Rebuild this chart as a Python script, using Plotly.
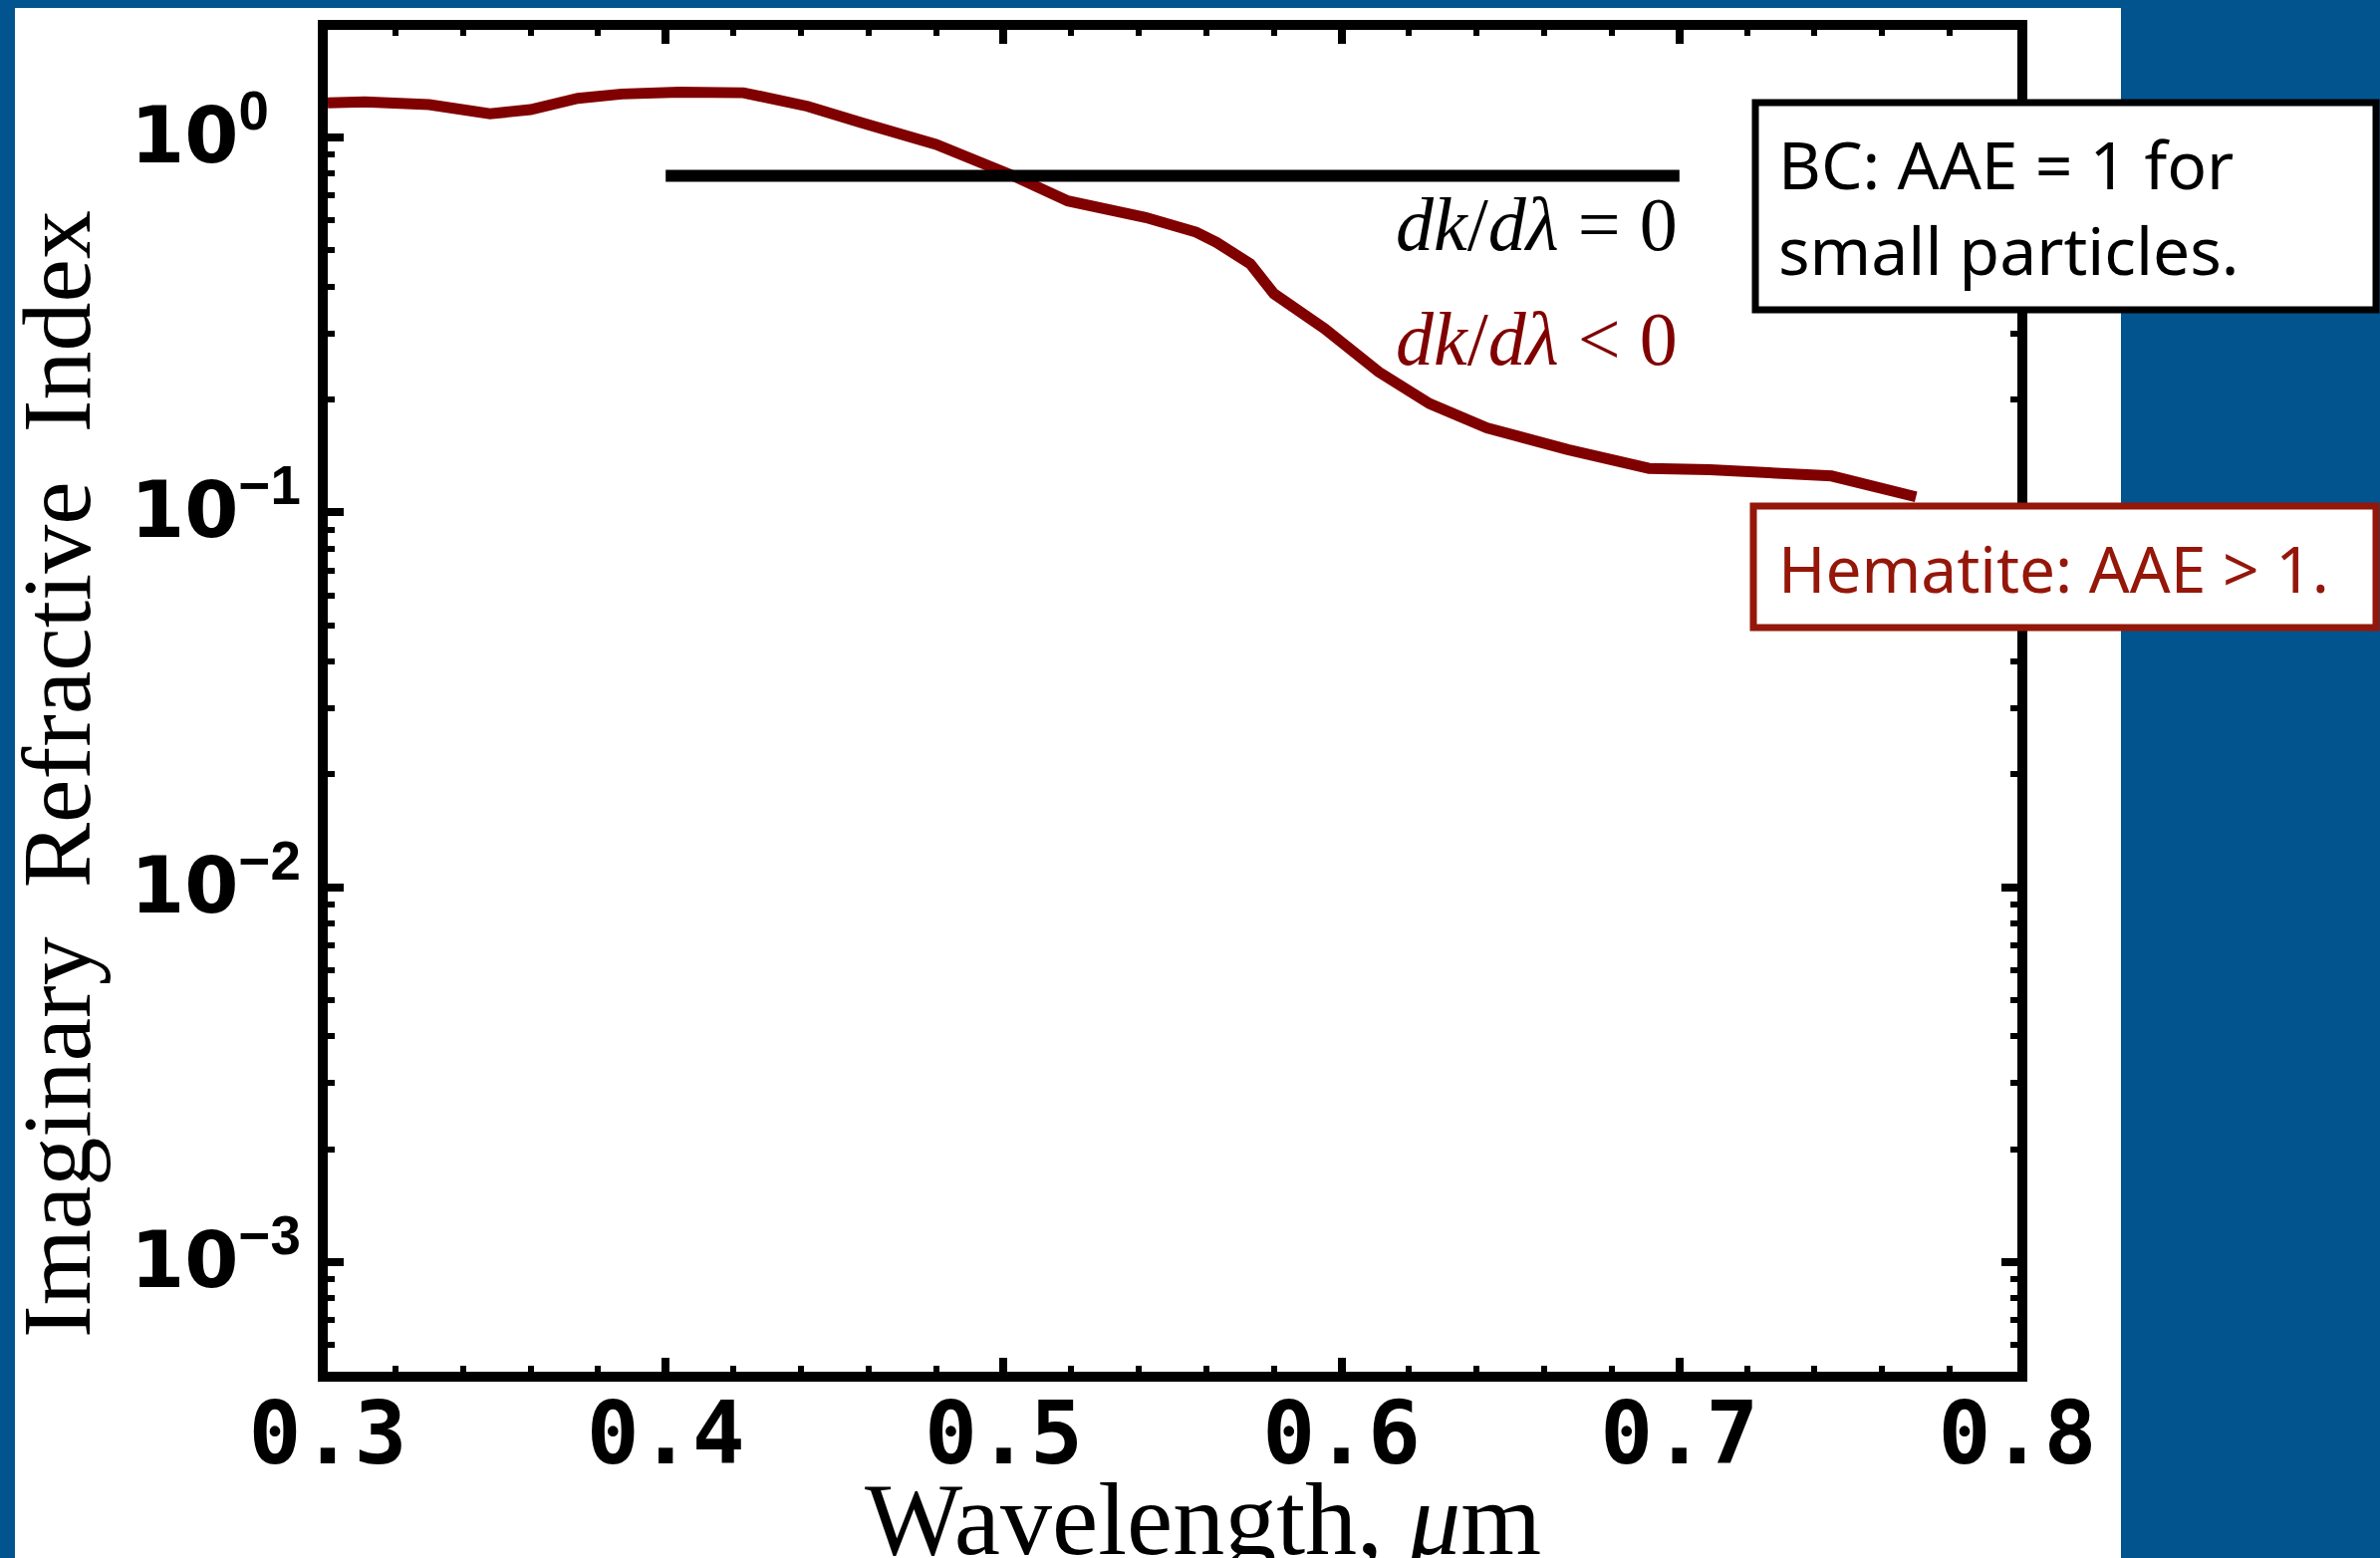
import math
import plotly.graph_objects as go

# Hematite imaginary refractive index k(λ)
wavelength_um = [0.300, 0.311, 0.330, 0.340, 0.342, 0.348, 0.360, 0.370, 0.374,
                 0.387, 0.404, 0.423, 0.442, 0.458, 0.480, 0.503, 0.519, 0.542,
                 0.557, 0.563, 0.573, 0.580, 0.595, 0.611, 0.626, 0.643, 0.667,
                 0.691, 0.709, 0.745, 0.770]
k_hematite = [1.236, 1.244, 1.224, 1.192, 1.168, 1.156, 1.187, 1.262, 1.272,
              1.306, 1.322, 1.316, 1.211, 1.094, 0.958, 0.789, 0.677, 0.612,
              0.559, 0.525, 0.460, 0.383, 0.309, 0.237, 0.195, 0.168, 0.147,
              0.131, 0.130, 0.125, 0.110]

# Black carbon: wavelength-independent k
bc_wavelength_um = [0.4, 0.7]
bc_k = [0.79, 0.79]

x_ticks = [0.3, 0.4, 0.5, 0.6, 0.7, 0.8]
x_ticktext = ["0.3", "0.4", "0.5", "0.6", "0.7", "0.8"]
y_ticks = [1e-3, 1e-2, 1e-1, 1e0]
y_exponents = ["−3", "−2", "−1", "0"]
y_minor = [m * 10.0 ** e for e in range(-4, 1) for m in range(2, 10)]

W_PX, H_PX = 2389, 1564
L, R, T, B = 329, 2025, 30, 1377

BLUE = "#02548F"
DARKRED = "#800000"
BOXRED = "#94170A"


def px(xp):
    return (xp - L) / (R - L)


def py(yp):
    return (B - yp) / (B - T)


fig = go.Figure()
fig.add_trace(go.Scatter(x=wavelength_um, y=k_hematite, mode="lines",
                         line=dict(color=DARKRED, width=11), hoverinfo="skip"))
fig.add_trace(go.Scatter(x=bc_wavelength_um, y=bc_k, mode="lines",
                         line=dict(color="black", width=12), hoverinfo="skip"))

axis_common = dict(
    ticks="inside", tickcolor="black", showline=True, linewidth=10,
    linecolor="black", mirror="allticks", showgrid=False, zeroline=False,
)

fig.update_layout(
    width=W_PX, height=H_PX,
    margin=dict(l=L, r=W_PX - R, t=T, b=H_PX - B, pad=0),
    paper_bgcolor=BLUE, plot_bgcolor="white",
    showlegend=False,
    xaxis=dict(
        range=[0.3, 0.8], tickmode="array", tickvals=x_ticks, ticktext=x_ticktext,
        ticklen=14, tickwidth=8, ticklabelstandoff=-24,
        tickfont=dict(family="DejaVu Sans Mono", size=88, color="black", weight="bold"),
        minor=dict(tickmode="linear", tick0=0.3, dtick=0.02, ticks="inside",
                   ticklen=6, tickwidth=6, tickcolor="black", showgrid=False),
        **axis_common,
    ),
    yaxis=dict(
        type="log", range=[-3.2925, 0.287], tickmode="array",
        tickvals=y_ticks, showticklabels=False, ticklen=16, tickwidth=8,
        minor=dict(tickmode="array", tickvals=y_minor, ticks="inside",
                   ticklen=7, tickwidth=6, tickcolor="black", showgrid=False),
        **axis_common,
    ),
    shapes=[
        # white slide panel
        dict(type="rect", xref="paper", yref="paper", layer="below",
             x0=px(15), x1=px(2129), y0=py(1600), y1=py(8),
             line=dict(width=0), fillcolor="white"),
        # BC legend box
        dict(type="rect", xref="paper", yref="paper", layer="above",
             x0=px(1762), x1=px(2385), y0=py(311), y1=py(103),
             line=dict(color="black", width=7), fillcolor="white"),
        # Hematite legend box
        dict(type="rect", xref="paper", yref="paper", layer="above",
             x0=px(1760), x1=px(2385), y0=py(630), y1=py(508),
             line=dict(color=BOXRED, width=7), fillcolor="white"),
    ],
)

# y tick labels: "10" base kept at a fixed left edge, exponent to its right
for val, expo in zip(y_ticks, y_exponents):
    label = ("10<sup><span style='font-family:Liberation Sans'>"
             + expo + "</span></sup>")
    fig.add_annotation(
        text=label, xref="paper", yref="y", x=px(129), y=math.log10(val),
        xanchor="left", yanchor="middle", yshift=7, showarrow=False,
        font=dict(family="DejaVu Sans", size=78, color="black", weight="bold"),
    )

serif = "Liberation Serif"
fig.add_annotation(
    text="Imaginary\u00a0 Refractive\u00a0 Index", textangle=-90,
    xref="paper", yref="paper", x=px(57), y=py(777),
    xanchor="center", yanchor="middle", showarrow=False,
    font=dict(family=serif, size=98, color="black"),
)
fig.add_annotation(
    text="Wavelength, <i>μ</i>m",
    xref="paper", yref="paper", x=px(1207), y=py(1524),
    xanchor="center", yanchor="middle", showarrow=False,
    font=dict(family=serif, size=104, color="black"),
)
fig.add_annotation(
    text="<i>dk</i>/<i>dλ</i> = 0",
    xref="x", yref="paper", x=0.7, y=py(225),
    xanchor="right", yanchor="middle", showarrow=False,
    font=dict(family=serif, size=76, color="black"),
)
fig.add_annotation(
    text="<i>dk</i>/<i>dλ</i> &lt; 0",
    xref="x", yref="paper", x=0.7, y=py(340),
    xanchor="right", yanchor="middle", showarrow=False,
    font=dict(family=serif, size=76, color=DARKRED),
)
fig.add_annotation(
    text="BC: AAE = 1 for<br>small particles.", align="left",
    xref="paper", yref="paper", x=px(1783), y=py(207),
    xanchor="left", yanchor="middle", showarrow=False,
    font=dict(family="Noto Sans", size=66, color="black"),
)
fig.add_annotation(
    text="Hematite: AAE &gt; 1.", align="left",
    xref="paper", yref="paper", x=px(1783), y=py(570),
    xanchor="left", yanchor="middle", showarrow=False,
    font=dict(family="Noto Sans", size=64, color=BOXRED),
)

fig.write_html("out.html", post_script="document.body.style.margin='0';")
